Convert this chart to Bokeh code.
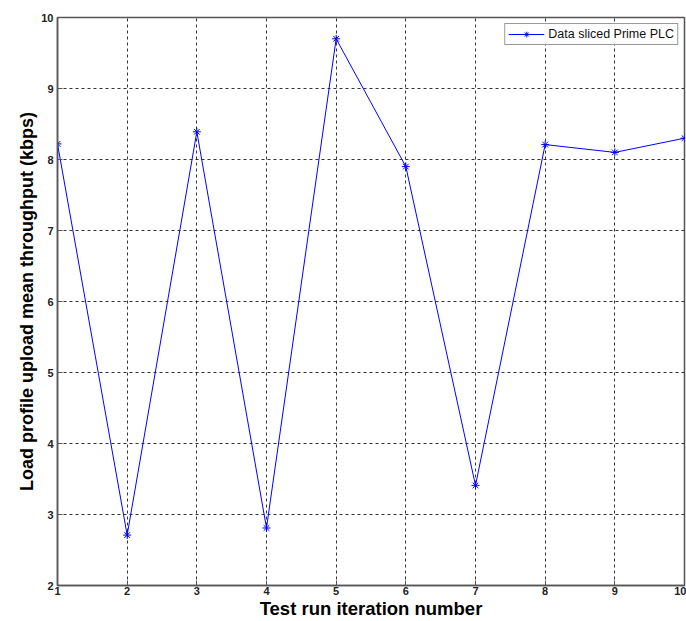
from bokeh.plotting import figure
from bokeh.models import Range1d, FixedTicker, Legend, LegendItem
from bokeh.embed import file_html
from bokeh.resources import INLINE

iterations = [1, 2, 3, 4, 5, 6, 7, 8, 9, 10]
throughput = [8.22, 2.71, 8.39, 2.81, 9.70, 7.90, 3.41, 8.21, 8.10, 8.30]
series_name = "Data sliced Prime PLC"
x_ticks = [1, 2, 3, 4, 5, 6, 7, 8, 9, 10]
y_ticks = [2, 3, 4, 5, 6, 7, 8, 9, 10]

FONT = "Liberation Sans"

p = figure(width=686, height=621, output_backend="svg", toolbar_location=None,
           x_range=Range1d(1, 10), y_range=Range1d(2, 10),
           min_border_left=57, min_border_top=17, min_border_bottom=36, min_border_right=2)
p.background_fill_color = "white"
p.border_fill_color = "white"
p.outline_line_color = "#555555"
p.outline_line_width = 1.5

line = p.line(iterations, throughput, line_color="#0000ff", line_width=1)
pts = p.scatter(iterations, throughput, marker="asterisk", size=8, line_color="#0000ff", line_width=1)

for ax in (p.xaxis[0], p.yaxis[0]):
    ax.axis_line_color = "#555555"
    ax.axis_line_width = 1.5
    ax.major_tick_in = 5
    ax.major_tick_out = 0
    ax.minor_tick_line_color = None
    ax.major_tick_line_color = "#555555"
    ax.major_label_text_font = FONT
    ax.major_label_text_font_size = "11px"
    ax.major_label_text_font_style = "bold"
    ax.major_label_text_color = "#222222"
    ax.axis_label_text_font = FONT
    ax.axis_label_text_font_style = "bold"
    ax.axis_label_text_color = "black"

p.xaxis.axis_label_text_font_size = "18.5px"
p.yaxis.axis_label_text_font_size = "18px"
p.xaxis.ticker = FixedTicker(ticks=x_ticks)
p.yaxis.ticker = FixedTicker(ticks=y_ticks)
p.xaxis.axis_label = "Test run iteration number"
p.yaxis.axis_label = "Load profile upload mean throughput (kbps)"
p.xaxis.major_label_standoff = 1
p.xaxis.axis_label_standoff = 0
p.yaxis.major_label_standoff = 4
p.yaxis.axis_label_standoff = 1

for g in (p.xgrid[0], p.ygrid[0]):
    g.grid_line_color = "black"
    g.grid_line_dash = "3 3"
    g.grid_line_width = 1
    g.grid_line_alpha = 0.8

legend = Legend(items=[LegendItem(label=series_name, renderers=[line, pts])],
                location="top_right")
legend.label_text_font = FONT
legend.label_text_font_size = "12.5px"
legend.label_text_color = "#111111"
legend.label_height = 14
legend.glyph_height = 14
legend.border_line_color = "#333333"
legend.border_line_width = 1
legend.margin = 6
legend.padding = 3
legend.spacing = 0
legend.glyph_width = 36
legend.label_standoff = 4
legend.background_fill_color = "white"
p.add_layout(legend)

open("out.html", "w").write(file_html(p, INLINE))
